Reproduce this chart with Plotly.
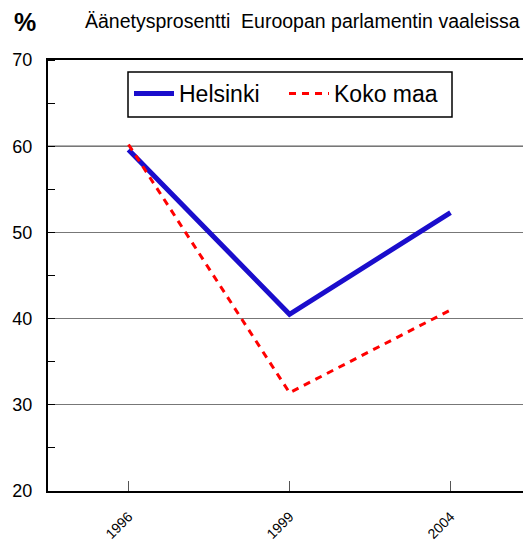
import plotly.graph_objects as go

years = ["1996", "1999", "2004"]
helsinki = [59.6, 40.5, 52.3]
koko_maa = [60.2, 31.4, 41.0]
y_ticks = [20, 30, 40, 50, 60, 70]

# page body has an 8px margin; figure is sized to fit the window
W, H = 523, 536
L, T, B, R = 40, 52, 53, 0

fig = go.Figure()
fig.add_trace(go.Scatter(x=years, y=helsinki, name="Helsinki", mode="lines",
                         line=dict(color="#1a0dcc", width=5)))
fig.add_trace(go.Scatter(x=years, y=koko_maa, name="Koko maa", mode="lines",
                         line=dict(color="#ff0000", width=3, dash="7px,6px")))

fig.add_hline(y=60, line=dict(color="black", width=1), layer="below")

pw, ph = W - L - R, H - T - B


def px(x, y):
    return (x - 8 - L) / pw, 1 + (T - (y - 8)) / ph


ax1, ay1 = px(12, 22)
ax2, ay2 = px(83, 21)
bx0, by0 = px(128, 72)
bx1, by1 = px(452, 117)
lx, ly = px(129, 93.5)

fig.add_shape(type="rect", xref="paper", yref="paper", x0=bx0, y0=by0, x1=bx1, y1=by1,
              line=dict(color="black", width=1.5), fillcolor="white", layer="above")

fig.update_layout(
    width=W, height=H, autosize=False,
    margin=dict(l=L, r=R, t=T, b=B, autoexpand=False),
    plot_bgcolor="white", paper_bgcolor="white",
    font=dict(family="Arial, Liberation Sans, sans-serif", color="black"),
    showlegend=True,
    legend=dict(orientation="h", x=lx, y=ly, xanchor="left", yanchor="middle",
                borderwidth=0, bgcolor="rgba(0,0,0,0)",
                font=dict(size=23), itemwidth=40, entrywidth=100),
    annotations=[
        dict(text="<b>%</b>", x=ax1, y=ay1, xref="paper", yref="paper", showarrow=False,
             font=dict(size=25), xanchor="left", yanchor="middle"),
        dict(text="Äänetysprosentti  Euroopan parlamentin vaaleissa", x=ax2, y=ay2,
             xref="paper", yref="paper", showarrow=False, font=dict(size=19.5),
             xanchor="left", yanchor="middle"),
    ],
)

fig.update_xaxes(type="category", range=[-0.5, 2.5], showline=True, linecolor="black",
                 linewidth=2, mirror=True, ticks="inside", ticklen=10, tickcolor="#555",
                 tickangle=-45, tickfont=dict(size=14), showgrid=False,
                 ticklabelstandoff=10, automargin=False)
fig.update_yaxes(range=[20, 70], tickvals=y_ticks, showline=True, linecolor="black",
                 linewidth=2, showgrid=True, gridcolor="#777", gridwidth=1,
                 ticks="", tickfont=dict(size=18), ticklabelstandoff=10,
                 minor=dict(dtick=5, ticks="inside", ticklen=7, tickcolor="black",
                            showgrid=False),
                 zeroline=False, automargin=False)

fig.write_html("out.html")
